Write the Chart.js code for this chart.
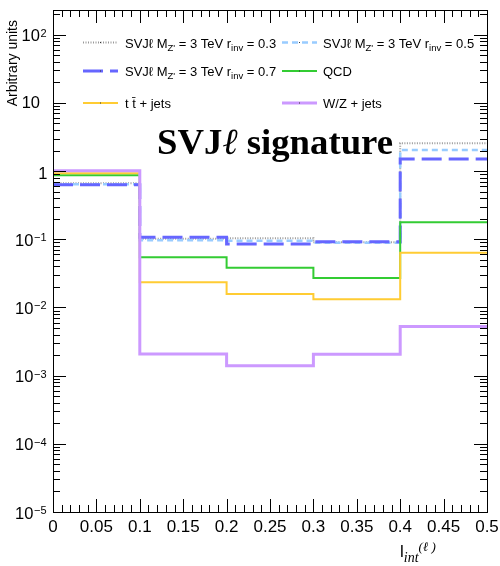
<!DOCTYPE html>
<html>
<head>
<meta charset="utf-8">
<script src="https://cdn.jsdelivr.net/npm/chart.js@4.4.1/dist/chart.umd.min.js"></script>
<style>
  body { margin: 0; background: #fff; }
  #wrap { width: 500px; height: 566px; }
</style>
</head>
<body>
<div id="wrap"><canvas id="isoChart" width="500" height="566"></canvas></div>
<script>
// bin edges of l_int(lepton), 5 bins of 0.1
const binEdges = [0, 0.1, 0.2, 0.3, 0.4, 0.5];

// normalised yields per bin
const svjR03 = [0.66, 0.102, 0.103, 0.090, 2.55];
const svjR05 = [0.64, 0.097, 0.095, 0.089, 2.04];
const svjR07 = [0.63, 0.107, 0.085, 0.092, 1.50];
const qcd    = [0.87, 0.0545, 0.0383, 0.0271, 0.177];
const ttbar  = [0.93, 0.0234, 0.0158, 0.0132, 0.0636];
const wzJets = [1.01, 0.00208, 0.00139, 0.00206, 0.00523];

const xTickValues = [0, 0.05, 0.1, 0.15, 0.2, 0.25, 0.3, 0.35, 0.4, 0.45, 0.5];
const xTickLabels = ['0', '0.05', '0.1', '0.15', '0.2', '0.25', '0.3', '0.35', '0.4', '0.45', '0.5'];
const yDecades = [2, 1, 0, -1, -2, -3, -4, -5];
const yMin = 1e-5, yMax = 230;

const SANS = '"Liberation Sans", Arial, Helvetica, sans-serif';
const SERIF = '"Liberation Serif", "Times New Roman", serif';

function histPoints(vals) {
  const pts = vals.map((v, i) => ({ x: binEdges[i], y: v }));
  pts.push({ x: binEdges[binEdges.length - 1], y: vals[vals.length - 1] });
  return pts;
}

function hist(label, vals, color, width, dash) {
  return {
    label: label,
    data: histPoints(vals),
    borderColor: color,
    borderWidth: width,
    borderDash: dash,
    stepped: 'before',
    pointRadius: 0,
    fill: false,
    tension: 0
  };
}

// drawn first = on top
const datasets = [
  hist('W/Z + jets', wzJets, '#cc99ff', 3, []),
  hist('ttbar + jets', ttbar, '#ffcc33', 2, []),
  hist('QCD', qcd, '#33cc33', 2, []),
  hist('r07', svjR07, '#6666ff', 3, [20, 7]),
  hist('r05', svjR05, '#99ccff', 2.5, [6, 4]),
  hist('r03', svjR03, '#999999', 2, [1, 1.5])
];

// rich text: list of [text, font, dy]
function drawParts(ctx, parts, x, y) {
  ctx.textAlign = 'left';
  ctx.textBaseline = 'alphabetic';
  for (const p of parts) {
    ctx.font = p[1];
    ctx.fillText(p[0], x, y + (p[2] || 0));
    x += ctx.measureText(p[0]).width;
  }
  return x;
}

const LF = '13px ' + SANS, LS = '9.5px ' + SANS;
function svjLabel(r) {
  return [['SVJ\u2113 M', LF], ['Z\'', LS, 3], [' = 3 TeV r', LF], ['inv', LS, 3], [' = ' + r, LF]];
}
const legendEntries = [
  { ds: 5, col: 0, row: 0, parts: svjLabel('0.3') },
  { ds: 4, col: 1, row: 0, parts: svjLabel('0.5') },
  { ds: 3, col: 0, row: 1, parts: svjLabel('0.7') },
  { ds: 2, col: 1, row: 1, parts: [['QCD', LF]] },
  { ds: 1, col: 0, row: 2, parts: [['t t\u0304 + jets', LF]] },
  { ds: 0, col: 1, row: 2, parts: [['W/Z + jets', LF]] }
];

const rootStyle = {
  id: 'rootStyle',
  afterDatasetsDraw(chart) {
    const ctx = chart.ctx;
    const a = chart.chartArea;
    const xs = chart.scales.x, ys = chart.scales.y;
    ctx.save();
    ctx.strokeStyle = '#000';
    ctx.fillStyle = '#000';
    ctx.lineWidth = 1;

    // frame
    ctx.strokeRect(Math.round(a.left) + 0.5, Math.round(a.top) + 0.5,
      Math.round(a.right - a.left), Math.round(a.bottom - a.top));

    // x ticks (bottom and top, inward)
    ctx.beginPath();
    for (let i = 0; i <= 50; i++) {
      const px = Math.round(xs.getPixelForValue(i / 100)) + 0.5;
      const len = i % 5 === 0 ? 13 : 7;
      ctx.moveTo(px, a.bottom); ctx.lineTo(px, a.bottom - len);
      ctx.moveTo(px, a.top); ctx.lineTo(px, a.top + len);
    }
    // y ticks (left and right, inward)
    for (let d = -5; d <= 2; d++) {
      for (let m = 1; m <= 9; m++) {
        const v = m * Math.pow(10, d);
        if (v < yMin || v > yMax) continue;
        const py = Math.round(ys.getPixelForValue(v)) + 0.5;
        const len = m === 1 ? 13 : 7;
        ctx.moveTo(a.left, py); ctx.lineTo(a.left + len, py);
        ctx.moveTo(a.right, py); ctx.lineTo(a.right - len, py);
      }
    }
    ctx.stroke();

    // x tick labels
    ctx.font = '17px ' + SANS;
    ctx.textAlign = 'center';
    ctx.textBaseline = 'middle';
    xTickValues.forEach((v, i) => {
      ctx.fillText(xTickLabels[i], xs.getPixelForValue(v), a.bottom + 15);
    });

    // y tick labels
    yDecades.forEach(e => {
      const py = ys.getPixelForValue(Math.pow(10, e)) + 1;
      ctx.textBaseline = 'middle';
      ctx.textAlign = 'right';
      if (e === 0) {
        ctx.font = '16.5px ' + SANS;
        ctx.fillText('1', 47.5, py + 2);
      } else if (e === 1) {
        ctx.font = '16.5px ' + SANS;
        ctx.fillText('10', 40, py);
      } else {
        const sup = e < 0 ? '\u2212' + (-e) : String(e);
        ctx.font = '11px ' + SANS;
        const w = ctx.measureText(sup).width;
        ctx.textBaseline = 'alphabetic';
        ctx.fillText(sup, 46.5, py + 1);
        ctx.font = '16.5px ' + SANS;
        ctx.textBaseline = 'middle';
        ctx.fillText('10', 46.5 - w - 0.5, py + 1);
      }
    });

    // y axis title
    ctx.save();
    ctx.translate(13.5, 20);
    ctx.rotate(-Math.PI / 2);
    ctx.font = '14px ' + SANS;
    ctx.textAlign = 'right';
    ctx.textBaseline = 'middle';
    ctx.fillText('Arbitrary units', 0, 0);
    ctx.restore();

    // x axis title
    drawParts(ctx, [['l', '17px ' + SANS], ['int', 'italic 14px ' + SERIF, 5], ['(\u2113 )', 'italic 13px ' + SERIF, -6]], 400, 557);

    // legend
    const colLine = [83, 282], colText = [125, 323], rowY = [42.5, 71, 103];
    legendEntries.forEach(en => {
      const ds = chart.data.datasets[en.ds];
      const y = rowY[en.row];
      ctx.save();
      ctx.strokeStyle = ds.borderColor;
      ctx.lineWidth = ds.borderWidth;
      ctx.setLineDash(ds.borderDash);
      ctx.beginPath();
      ctx.moveTo(colLine[en.col], y);
      ctx.lineTo(colLine[en.col] + 35, y);
      ctx.stroke();
      ctx.restore();
      ctx.fillStyle = '#333';
      ctx.fillRect(colLine[en.col] + 17, y - 0.5, 1, 1);
      ctx.fillStyle = '#000';
      drawParts(ctx, en.parts, colText[en.col], y + 5);
    });

    // in-plot title
    const targetW = 236;
    ctx.font = 'bold 30px ' + SERIF;
    let w = ctx.measureText('SVJ').width + ctx.measureText(' signature').width;
    ctx.font = 'italic 30px ' + SERIF;
    w += ctx.measureText('\u2113').width;
    const fs = 30 * targetW / w;
    drawParts(ctx, [['SVJ', 'bold ' + fs + 'px ' + SERIF], ['\u2113', 'italic ' + fs + 'px ' + SERIF], [' signature', 'bold ' + fs + 'px ' + SERIF]], 157, 154);

    ctx.restore();
  }
};

new Chart(document.getElementById('isoChart'), {
  type: 'line',
  data: { datasets: datasets },
  options: {
    responsive: false,
    animation: false,
    devicePixelRatio: 1,
    layout: { padding: { left: 53, right: 13, top: 10, bottom: 54 } },
    plugins: { legend: { display: false }, tooltip: { enabled: false } },
    scales: {
      x: { type: 'linear', min: 0, max: 0.5, display: false },
      y: { type: 'logarithmic', min: yMin, max: yMax, display: false }
    }
  },
  plugins: [rootStyle]
});
</script>
</body>
</html>
